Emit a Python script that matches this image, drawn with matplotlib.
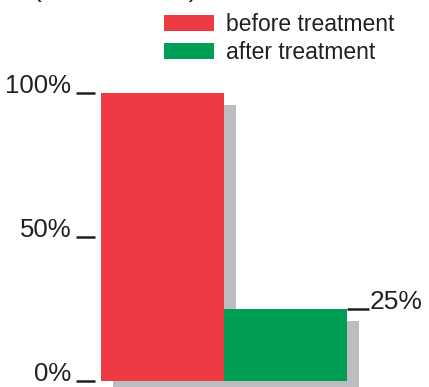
import matplotlib

matplotlib.use("Agg")
import matplotlib.pyplot as plt
from matplotlib.transforms import offset_copy

# data
groups = ["before treatment", "after treatment"]
values = [100, 25]
colors = ["#EE3B43", "#009E55"]
left_ticks = [0, 50, 100]
left_labels = ["0%", "50%", "100%"]
right_ticks = [25]
right_labels = ["25%"]

INK = "#231F20"
SHADOW = "#BCBDC1"

plt.rcParams.update({"font.family": ["Liberation Sans", "DejaVu Sans"]})

W, H = 429, 387
fig = plt.figure(figsize=(W / 100, H / 100), dpi=100)
# axes box = the bar area (pixels measured from the top-left corner)
x0, x1, ytop, ybot = 101, 347, 93, 381
ax = fig.add_axes([x0 / W, (H - ybot) / H, (x1 - x0) / W, (ybot - ytop) / H])

pos = list(range(len(values)))

# drop shadow, shifted right/down in pixels
shadow_tr = offset_copy(ax.transData, fig=fig, x=12, y=-12, units="dots")
shadow = ax.bar(pos, values, width=1.0, color=SHADOW, zorder=1)
for p in shadow:
    p.set_transform(shadow_tr)
    p.set_clip_on(False)

bars = ax.bar(pos, values, width=1.0, color=colors, zorder=2)

ax.set_xlim(-0.5, len(values) - 0.5)
ax.set_ylim(0, 100)
for s in ax.spines.values():
    s.set_visible(False)
ax.set_xticks([])

ax.spines["left"].set_position(("outward", 4))
ax.set_yticks(left_ticks)
ax.set_yticklabels(left_labels)
ax.tick_params(axis="y", length=14, width=1.8, color=INK, labelcolor=INK,
               labelsize=18.5, pad=3.5)
for t in ax.get_yticklabels():
    t.set_va("baseline")

ax2 = ax.twinx()
ax2.set_ylim(0, 100)
for s in ax2.spines.values():
    s.set_visible(False)
ax2.set_yticks(right_ticks)
ax2.set_yticklabels(right_labels)
ax2.tick_params(axis="y", length=16, width=1.8, color=INK, labelcolor=INK,
                labelsize=19, pad=0)
for t in ax2.get_yticklabels():
    t.set_va("baseline")

fig.legend(bars, groups, loc="upper left",
           bbox_to_anchor=(164 / W, 1 - 13 / H), frameon=False,
           fontsize=16.5, handlelength=2.2, handleheight=0.75,
           handletextpad=0.5, labelspacing=0.22, borderpad=0,
           borderaxespad=0, labelcolor=INK)

# title cut off by the top edge
fig.text(33 / W, 1 + 3 / H, "(relative level)", fontsize=19, color=INK,
         ha="left", va="baseline")

fig.savefig("out.png", dpi=100)
